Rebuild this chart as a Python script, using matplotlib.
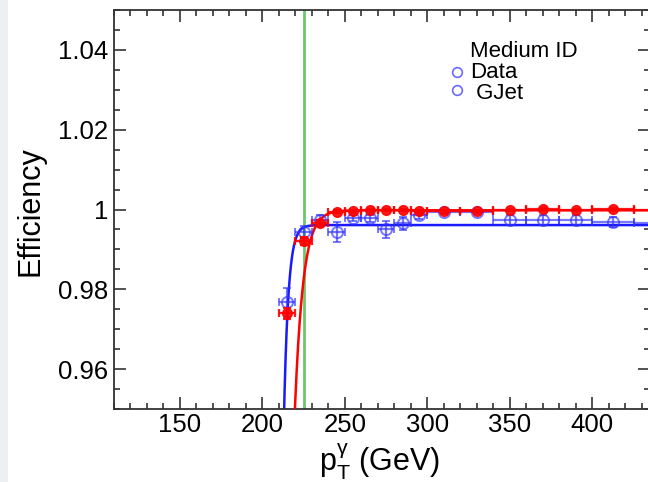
import numpy as np
import matplotlib
matplotlib.use("Agg")
import matplotlib.pyplot as plt
from matplotlib.ticker import FixedLocator, FixedFormatter, MultipleLocator
from matplotlib.lines import Line2D
from matplotlib.patches import Rectangle

plt.rcParams['font.family'] = ['Liberation Sans', 'DejaVu Sans']
plt.rcParams['mathtext.fontset'] = 'custom'
plt.rcParams['mathtext.rm'] = 'Liberation Sans'
plt.rcParams['mathtext.it'] = 'Liberation Sans:italic'

# ---------------- data ----------------
pt_centers = [215, 225, 235, 245, 255, 265, 275, 285, 295, 310, 330, 350, 370, 390, 412.5, 437.5]
pt_halfwidth = [5, 5, 5, 5, 5, 5, 5, 5, 5, 10, 10, 10, 10, 10, 12.5, 12.5]

data_eff = [0.9740, 0.9921, 0.9967, 0.99945, 0.9996, 0.9999, 0.9999, 0.9999, 0.9995,
            0.9995, 0.9996, 0.9999, 1.0001, 0.9999, 1.0001, 1.0000]
data_err = [0.0014, 0.0010, 0.0007, 0.0004, 0.0003, 0.0003, 0.0003, 0.0003, 0.0003,
            0.0003, 0.0003, 0.0003, 0.0003, 0.0003, 0.0003, 0.0003]

gjet_eff = [0.9767, 0.9943, 0.9974, 0.9943, 0.9978, 0.9978, 0.9950, 0.9965, 0.9986,
            0.9993, 0.9993, 0.9974, 0.9974, 0.9974, 0.9968, 0.9966]
gjet_err = [0.0036, 0.0015, 0.0012, 0.0025, 0.0008, 0.0009, 0.0022, 0.0017, 0.0010,
            0.0005, 0.0005, 0.0013, 0.0013, 0.0013, 0.0013, 0.0013]

# turn-on fit parameters: plateau * (1 - exp(-(x - x0)/tau))
data_fit = {"plateau": 0.9998, "x0": 204.7, "tau": 5.0}
gjet_fit = {"plateau": 0.9961, "x0": 204.8, "tau": 2.72}

cut_value = 225  # vertical green line

x_major = [150, 200, 250, 300, 350, 400]
x_major_labels = ["150", "200", "250", "300", "350", "400"]
y_major = [0.96, 0.98, 1.00, 1.02, 1.04]
y_major_labels = ["0.96", "0.98", "1", "1.02", "1.04"]

legend_title = "Medium ID"
legend_entries = ["Data", " GJet"]

# ---------------- figure ----------------
W, H = 648, 482
fig = plt.figure(figsize=(W / 100, H / 100), dpi=100)
fig.patches.append(Rectangle((0, 0), 8 / W, 1, transform=fig.transFigure,
                             facecolor='#edf0f3', edgecolor='none', zorder=0))

ax_l, ax_r, ax_t, ax_b = 114, 650, 10, 409
ax = fig.add_axes([ax_l / W, 1 - ax_b / H, (ax_r - ax_l) / W, (ax_b - ax_t) / H])
ax.set_xlim(110, 435)
ax.set_ylim(0.95, 1.05)

blue = '#3030ff'
red = '#ff0000'

ax.axvline(cut_value, color='#6ec66e', lw=2.0, zorder=1)


def turn_on(x, p):
    v = p["plateau"] * (1 - np.exp(-(x - p["x0"]) / p["tau"]))
    return v


xx = np.linspace(205.0, 460.0, 2000)
ax.plot(xx, turn_on(xx, gjet_fit), color='#1a1aff', lw=1.8, zorder=2)
ax.plot(xx, turn_on(xx, data_fit), color=red, lw=1.8, zorder=3)

ax.errorbar(pt_centers, gjet_eff, xerr=pt_halfwidth, yerr=gjet_err, fmt='o',
            ms=8, mfc='none', mec=blue, mew=1.4, color=blue, ecolor=blue,
            elinewidth=1.6, capsize=3, capthick=1.6, alpha=0.65, zorder=4)
ax.errorbar(pt_centers, data_eff, xerr=pt_halfwidth, yerr=data_err, fmt='o',
            ms=7, mfc=red, mec=red, color=red, ecolor=red,
            elinewidth=1.6, capsize=3, capthick=1.6, alpha=0.9, zorder=5)

# ticks
ax.xaxis.set_major_locator(FixedLocator(x_major))
ax.xaxis.set_major_formatter(FixedFormatter(x_major_labels))
ax.xaxis.set_minor_locator(MultipleLocator(10))
ax.yaxis.set_major_locator(FixedLocator(y_major))
ax.yaxis.set_major_formatter(FixedFormatter(y_major_labels))
ax.yaxis.set_minor_locator(MultipleLocator(0.005))
ax.tick_params(which='both', direction='in', top=True, right=True,
               color='#333333', width=1.2)
ax.tick_params(which='major', length=8.5, labelsize=18.5, pad=4)
ax.tick_params(axis='x', which='major', pad=3)
ax.tick_params(which='minor', length=4.3)
for s in ax.spines.values():
    s.set_color('#333333')
    s.set_linewidth(1.3)

# axis titles
fig.text(31 / W, 1 - 211.5 / H, 'Efficiency', rotation=90, ha='center', va='center',
         fontsize=22)
fig.text(380 / W, 1 - 471 / H, r'p$_{\mathrm{T}}^{\mathrm{\gamma}}$ (GeV)', ha='center',
         va='baseline', fontsize=22)

# legend (title + entries in one text block)
fig.text(470 / W, 1 - 41 / H, "\n".join([legend_title] + legend_entries),
         ha='left', va='top', fontsize=16, linespacing=1.0)
for yy in (72, 89.5):
    fig.lines.append(Line2D([457 / W], [1 - yy / H], transform=fig.transFigure,
                            marker='o', ms=7, mfc='none', mec='#6a6aff', mew=1.2,
                            linestyle='none'))

fig.savefig('out.png', dpi=100)
